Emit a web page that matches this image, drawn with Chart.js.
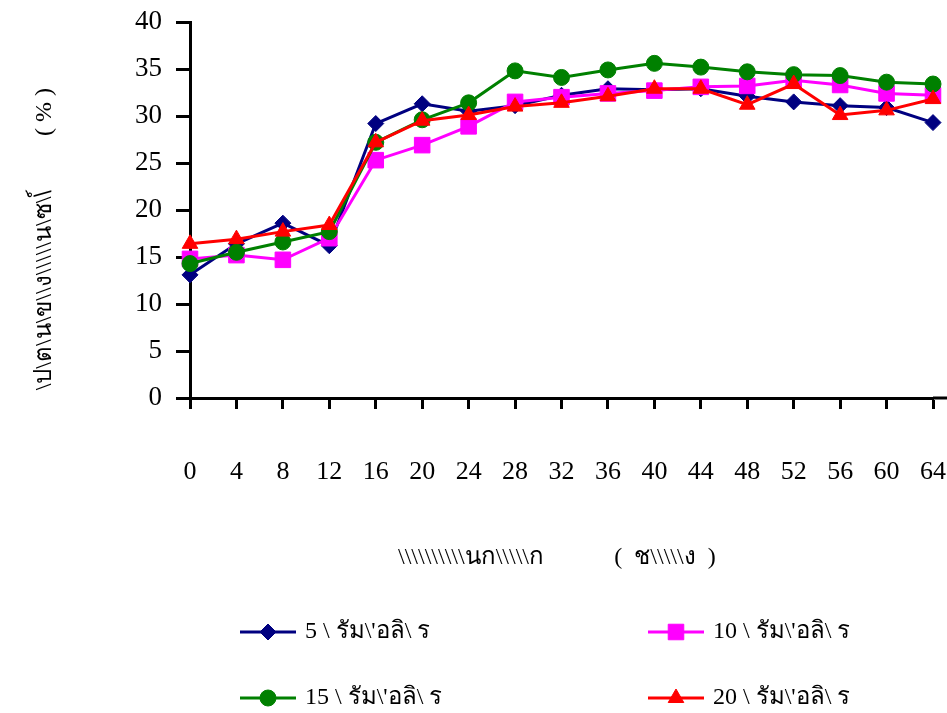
<!DOCTYPE html>
<html>
<head>
<meta charset="utf-8">
<script src="https://cdn.jsdelivr.net/npm/chart.js@4/dist/chart.umd.min.js"></script>
<style>
  html, body { margin: 0; padding: 0; background: #ffffff; }
  #wrap { width: 947px; height: 713px; position: relative; }
</style>
</head>
<body>
<div id="wrap"><canvas id="c" width="947" height="713"></canvas></div>
<script>
// Sampling times (hours)
const hours = ['0', '4', '8', '12', '16', '20', '24', '28', '32', '36', '40', '44', '48', '52', '56', '60', '64'];

// Measured values (%) for each series
const series5  = [13.1, 16.4, 18.6, 16.2, 29.2, 31.3, 30.5, 31.1, 32.2, 32.9, 32.8, 32.9, 32.1, 31.5, 31.1, 30.9, 29.3];
const series10 = [14.8, 15.2, 14.7, 17.0, 25.3, 26.9, 28.9, 31.5, 32.0, 32.4, 32.7, 33.1, 33.2, 33.8, 33.3, 32.4, 32.2];
const series15 = [14.3, 15.5, 16.6, 17.7, 27.2, 29.6, 31.4, 34.8, 34.1, 34.9, 35.6, 35.2, 34.7, 34.4, 34.3, 33.6, 33.4];
const series20 = [16.4, 16.9, 17.7, 18.4, 27.2, 29.5, 30.1, 31.0, 31.4, 32.1, 32.9, 32.9, 31.2, 33.4, 30.1, 30.6, 31.8];

// Legend names and axis titles
const seriesNames = ['5 \\ รัม\\\'อลิ\\ ร', '10 \\ รัม\\\'อลิ\\ ร', '15 \\ รัม\\\'อลิ\\ ร', '20 \\ รัม\\\'อลิ\\ ร'];
const yTitle = '\\ป\\ต\\น\\ข\\\\ง\\\\\\\\\\น\\ซ\\\\์';
const yUnit = '( % )';
const xTitle = '\\\\\\\\\\\\\\\\\\\\นก\\\\\\\\\\ก';
const xUnit = '(  ช\\\\\\\\\\ง  )';

const FONT = '"Liberation Serif", "Times New Roman", serif';

// Axis titles, the 2x2 legend and the x-axis line running to the right edge
const decorations = {
  id: 'decorations',
  afterDraw(chart) {
    const ctx = chart.ctx;
    const area = chart.chartArea;
    ctx.save();
    ctx.strokeStyle = '#000';
    ctx.lineWidth = 3;
    ctx.beginPath();
    ctx.moveTo(area.right, area.bottom);
    ctx.lineTo(chart.width, area.bottom);
    ctx.stroke();

    ctx.fillStyle = '#000';
    ctx.font = '24px ' + FONT;
    ctx.textBaseline = 'middle';
    ctx.textAlign = 'center';
    ctx.fillText(xTitle, 471, 558);
    ctx.fillText(xUnit, 665, 558);

    ctx.save();
    ctx.translate(45, 0);
    ctx.rotate(-Math.PI / 2);
    ctx.fillText(yTitle, -290, 0);
    ctx.fillText(yUnit, -112, 0);
    ctx.restore();

    const slots = [[240, 632], [648, 632], [240, 698], [648, 698]];
    chart.data.datasets.forEach((ds, i) => {
      const [x, y] = slots[i];
      ctx.strokeStyle = ds.borderColor;
      ctx.lineWidth = ds.borderWidth;
      ctx.beginPath();
      ctx.moveTo(x, y);
      ctx.lineTo(x + 56, y);
      ctx.stroke();
      ctx.fillStyle = ds.backgroundColor;
      ctx.strokeStyle = ds.borderColor;
      ctx.lineWidth = 1;
      Chart.helpers.drawPoint(ctx, { pointStyle: ds.pointStyle, radius: ds.pointRadius, rotation: 0, borderWidth: 1 }, x + 28, y);
      ctx.fillStyle = '#000';
      ctx.textAlign = 'left';
      ctx.fillText(ds.label, x + 65, y);
    });
    ctx.restore();
  }
};

const mk = (label, data, color, style, radius, order) => ({
  label, data,
  borderColor: color,
  backgroundColor: color,
  pointBackgroundColor: color,
  pointBorderColor: color,
  borderWidth: 3,
  pointStyle: style,
  pointRadius: radius,
  pointHoverRadius: radius,
  pointBorderWidth: 1,
  tension: 0,
  order
});

new Chart(document.getElementById('c'), {
  type: 'line',
  data: {
    labels: hours,
    datasets: [
      mk(seriesNames[0], series5,  '#000080', 'rectRot', 8, 3),
      mk(seriesNames[1], series10, '#ff00ff', 'rect', 11, 2),
      mk(seriesNames[2], series15, '#008000', 'circle', 8, 1),
      mk(seriesNames[3], series20, '#ff0000', 'triangle', 9, 0)
    ]
  },
  options: {
    responsive: false,
    animation: false,
    devicePixelRatio: 1,
    layout: { padding: { left: 0, right: 14, top: 22, bottom: 0 } },
    plugins: { legend: { display: false }, tooltip: { enabled: false } },
    scales: {
      x: {
        offset: false,
        grid: { display: true, drawOnChartArea: false, drawTicks: true, tickLength: 11, tickWidth: 3, tickColor: '#000' },
        border: { display: true, color: '#000', width: 3 },
        ticks: { color: '#000', font: { family: FONT, size: 26 }, padding: 48, maxRotation: 0, autoSkip: false },
        afterFit(scale) {
          scale.height = 315;
          scale.paddingLeft = 0;
          scale.paddingRight = 0;
        }
      },
      y: {
        min: 0, max: 40,
        grid: { display: true, drawOnChartArea: false, drawTicks: true, tickLength: 14, tickWidth: 3, tickColor: '#000' },
        border: { display: true, color: '#000', width: 3 },
        ticks: { stepSize: 5, color: '#000', font: { family: FONT, size: 27 }, padding: 14 },
        afterFit(scale) {
          scale.width = 190;
          scale.paddingTop = 0;
          scale.paddingBottom = 0;
        }
      }
    }
  },
  plugins: [decorations]
});
</script>
</body>
</html>
